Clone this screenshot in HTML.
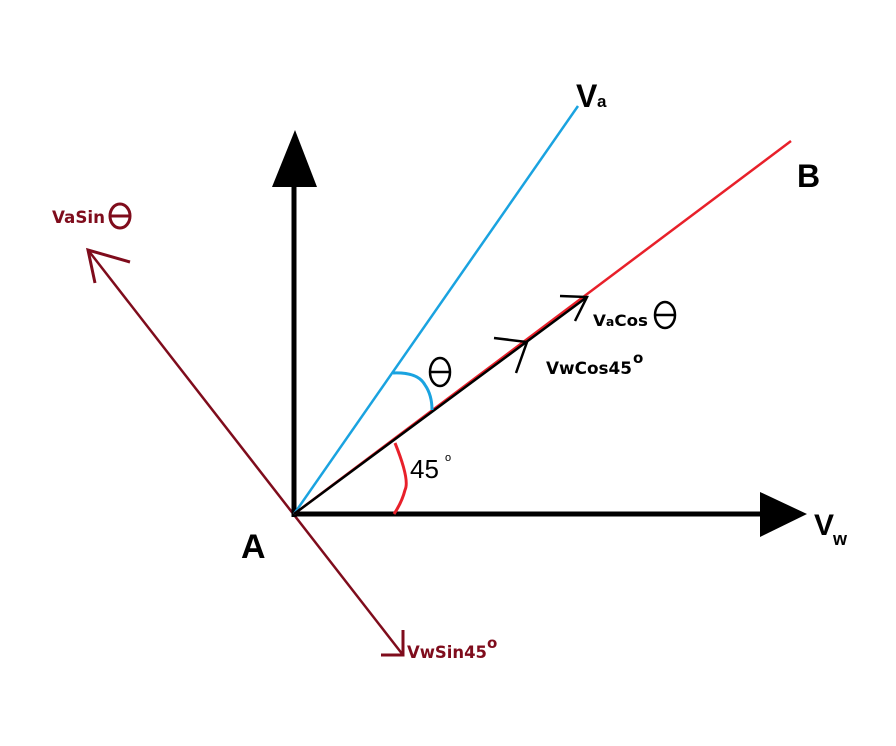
<!DOCTYPE html>
<html><head><style>html,body{margin:0;padding:0;background:#fff;}svg{display:block}</style></head>
<body>
<svg width="896" height="746" viewBox="0 0 896 746" xmlns="http://www.w3.org/2000/svg" font-family="'DejaVu Sans', 'Liberation Sans', sans-serif">
<rect width="896" height="746" fill="#fff"/>
<line x1="88" y1="250" x2="403" y2="655" stroke="#7f0c1c" stroke-width="2.5"/>
<polyline points="130,262 88,250 95,283" fill="none" stroke="#7f0c1c" stroke-width="3"/>
<polyline points="403,630 403,655 381,655" fill="none" stroke="#7f0c1c" stroke-width="3"/>
<line x1="294" y1="517" x2="294" y2="185" stroke="#000" stroke-width="5"/>
<polygon points="295,130 272,187 317,187" fill="#000"/>
<line x1="292" y1="514" x2="762" y2="514" stroke="#000" stroke-width="5"/>
<polygon points="807,514 760,492 760,537" fill="#000"/>
<line x1="294" y1="514" x2="578" y2="106" stroke="#1aa3e0" stroke-width="2.5"/>
<line x1="294" y1="514" x2="791" y2="141" stroke="#e8202a" stroke-width="2.5"/>
<line x1="294" y1="514" x2="587" y2="297" stroke="#000" stroke-width="2.5"/>
<polyline points="560,296 587,297 575,321" fill="none" stroke="#000" stroke-width="2.5"/>
<polyline points="494,338 527,342 516,373" fill="none" stroke="#000" stroke-width="2.5"/>
<path d="M393,373 Q418,372 425,385 Q432,395 432,410" fill="none" stroke="#1aa3e0" stroke-width="3"/>
<path d="M395,443 Q410,480 405,490 Q402,502 394,514" fill="none" stroke="#e8202a" stroke-width="3"/>
<ellipse cx="440" cy="372" rx="10" ry="14" fill="none" stroke="#000" stroke-width="2.5"/>
<line x1="430" y1="372" x2="450" y2="372" stroke="#000" stroke-width="2.5"/>
<ellipse cx="665" cy="315" rx="10" ry="13" fill="none" stroke="#000" stroke-width="2.5"/>
<line x1="655" y1="315" x2="675" y2="315" stroke="#000" stroke-width="2.5"/>
<ellipse cx="120" cy="216" rx="10" ry="12" fill="none" stroke="#7f0c1c" stroke-width="3"/>
<line x1="110" y1="216" x2="130" y2="216" stroke="#7f0c1c" stroke-width="3"/>
<g font-family="'Liberation Sans', sans-serif" font-weight="bold">
<text x="576" y="107" font-size="32">V</text>
<text x="597" y="107" font-size="17">a</text>
<text x="797" y="187" font-size="32">B</text>
<text x="241" y="558" font-size="34">A</text>
<text x="814" y="535" font-size="30">V</text>
<text x="833" y="545" font-size="18">w</text>
</g>
<g font-weight="bold">
<text x="52" y="223" font-size="17" fill="#7f0c1c" textLength="53" lengthAdjust="spacingAndGlyphs">VaSin</text>
<text x="593" y="326" font-size="16" textLength="55" lengthAdjust="spacingAndGlyphs">V<tspan font-size="12">a</tspan>Cos</text>
<text x="546" y="374" font-size="17" textLength="86" lengthAdjust="spacingAndGlyphs">VwCos45</text>
<text x="633" y="363" font-size="15">o</text>
<text x="407" y="658" font-size="17" fill="#7f0c1c" textLength="80" lengthAdjust="spacingAndGlyphs">VwSin45</text>
<text x="487" y="648" font-size="15" fill="#7f0c1c">o</text>
</g>
<text x="410" y="478" font-size="26" font-family="'Liberation Sans', sans-serif">45</text>
<text x="445" y="461" font-size="11" font-family="'Liberation Sans', sans-serif">o</text>
</svg>
</body></html>
